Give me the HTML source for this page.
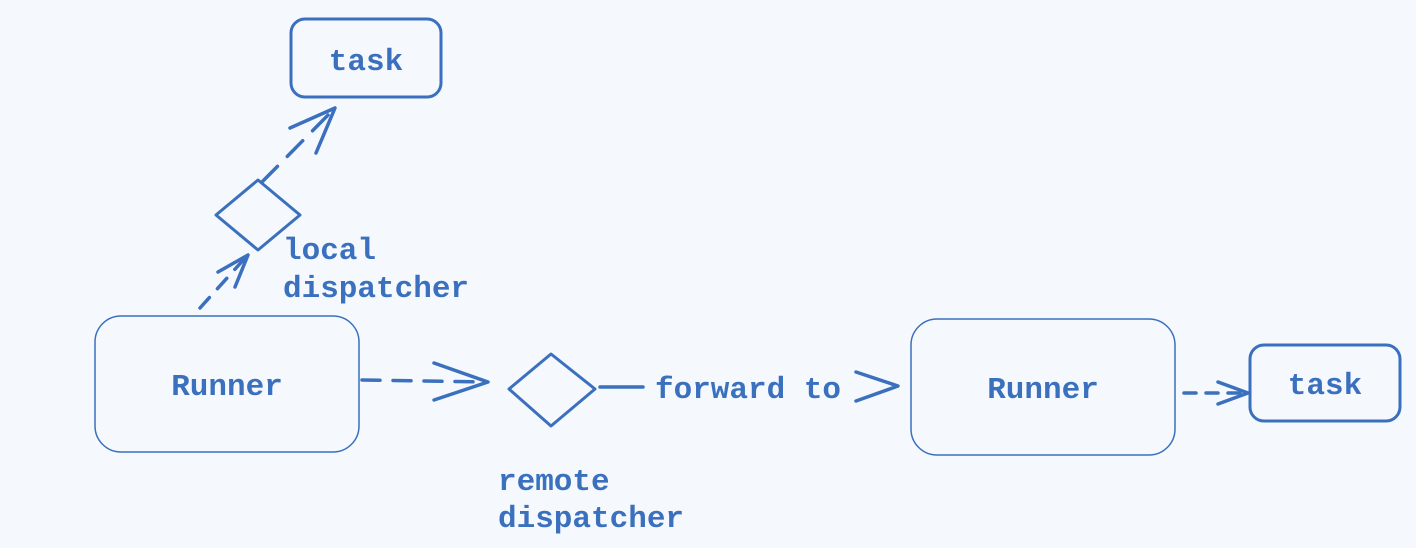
<!DOCTYPE html>
<html><head><style>
html,body{margin:0;padding:0;background:#f5f9fd;}
svg{display:block}
text{font-family:"Liberation Mono",monospace;font-weight:bold;fill:#3a70bd;font-size:31px}
</style></head><body>
<svg width="1416" height="548" viewBox="0 0 1416 548">
<rect width="1416" height="548" fill="#f5f9fd"/>
<g fill="none" stroke="#3a70bd" stroke-linecap="round" stroke-linejoin="round">
<rect x="291" y="19" width="150" height="78" rx="14" stroke-width="3"/>
<rect x="1250" y="345" width="150" height="76" rx="14" stroke-width="3"/>
<rect x="95" y="316" width="264" height="136" rx="26" stroke-width="1.5"/>
<rect x="911" y="319" width="264" height="136" rx="26" stroke-width="1.5"/>
<path d="M216,215 L258,180 L300,215 L258,250 Z" stroke-width="3"/>
<path d="M509,389 L551,354 L595,389 L551,426 Z" stroke-width="3"/>
<g stroke-width="3.5">
<path d="M200,308 L246,257" stroke-dasharray="14 12"/>
<path d="M218,272 L248,255 L235,287"/>
<path d="M262,182 L333,110" stroke-dasharray="22 14"/>
<path d="M290,128 L335,108 L316,153"/>
<path d="M362,380 L486,382" stroke-dasharray="18 13"/>
<path d="M434,363 L488,382 L434,400"/>
<path d="M600,387 L643,387"/>
<path d="M856,372 L898,386 L856,401"/>
<path d="M1184,393 L1244,393" stroke-dasharray="12 10"/>
<path d="M1218,382 L1248,393 L1218,404"/>
</g>
</g>
<text x="366" y="70" text-anchor="middle">task</text>
<text x="1325" y="394" text-anchor="middle">task</text>
<text x="227" y="395" text-anchor="middle">Runner</text>
<text x="1043" y="398" text-anchor="middle">Runner</text>
<text x="283" y="259">local</text>
<text x="283" y="297">dispatcher</text>
<text x="498" y="490">remote</text>
<text x="498" y="527">dispatcher</text>
<text x="655" y="398">forward to</text>
</svg>
</body></html>
